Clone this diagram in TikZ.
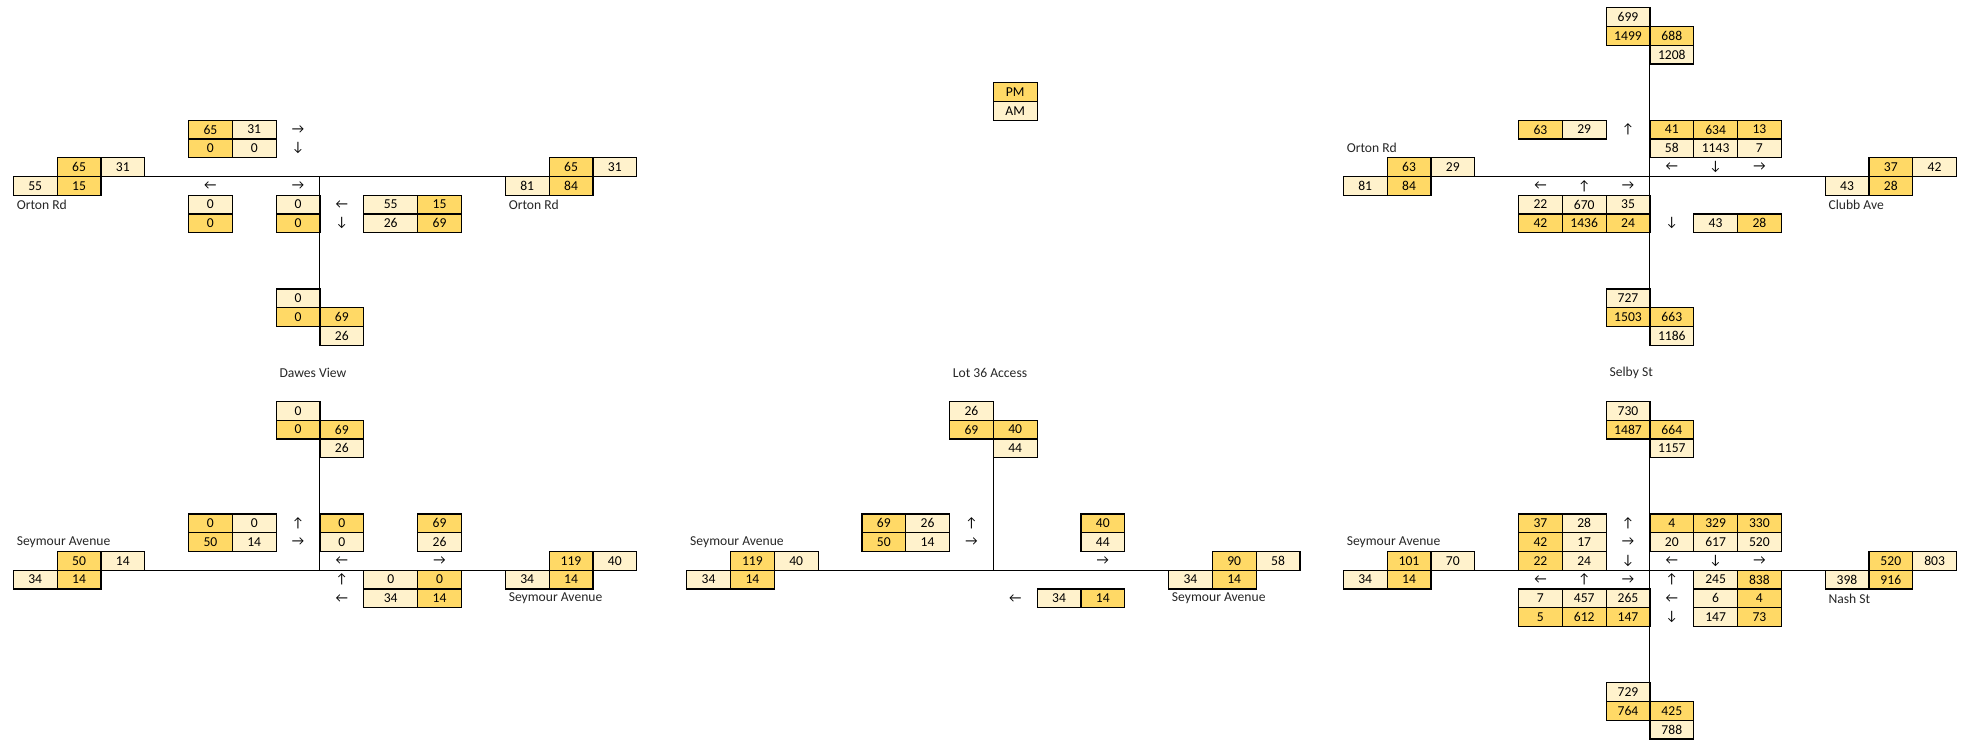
\documentclass[tikz,border=0pt]{standalone}
\usepackage{fontspec}
\setmainfont{Carlito}
\definecolor{pmfill}{HTML}{FFD966}
\definecolor{amfill}{HTML}{FFF2CC}
\begin{document}
\begin{tikzpicture}[x=32.85pt,y=-14.0625pt,
  every node/.style={font=\fontsize{10.2}{12}\selectfont},
  cell/.style={draw=black,line width=0.9pt,anchor=north west,minimum width=32.85pt,minimum height=14.0625pt,inner sep=0pt,outer sep=0pt},
  pmcell/.style={cell,fill=pmfill},
  amcell/.style={cell,fill=amfill},
  widecell/.style={minimum width=40.5pt},
  arr/.style={inner sep=0pt},
  lbl/.style={anchor=west,inner sep=2.4pt,text=black!85},
  road/.style={line width=0.8pt}]
  \path[use as bounding box] (0pt,0pt) rectangle (1476.75pt,-556.5pt);

  \begin{scope}[shift={(9.975pt,-5.775pt)}]
    \coordinate (tlW) at (0,9);
    \coordinate (tlE) at (14.233,9);
    \coordinate (tlC) at (7,9);
    \coordinate (tlS) at (7,15);
    \draw[road] (tlW) -- (tlE);
    \draw[road] (tlC) -- (tlS);
    \foreach \v/\x/\y [count=\i] in {65/4/6,0/4/7,65/1/8,65/12.233/8,15/1/9,84/12.233/9,15/9.233/10,0/4/11,0/6/11,69/9.233/11,0/6/16,69/7/16}
      \node[pmcell] (tlp\i) at (\x,\y) {\v};
    \foreach \v/\x/\y [count=\i] in {31/5/6,0/5/7,31/2/8,31/13.233/8,55/0/9,81/11.233/9,0/4/10,0/6/10,0/6/15,26/7/17}
      \node[amcell] (tla\i) at (\x,\y) {\v};
    \node[amcell,widecell] (tlw1) at (8,10) {55};
    \node[amcell,widecell] (tlw2) at (8,11) {26};
    \foreach \t/\x/\y [count=\i] in {→/6/6,↓/6/7,←/4/9,→/6/9,←/7/10,↓/7/11}
      \node[arr] (tlr\i) at (\x+.5,\y+.5) {\t};
    \node[lbl] (tlOrtonW) at (0,10.5) {Orton Rd};
    \node[lbl] (tlOrtonE) at (11.233,10.5) {Orton Rd};
  \end{scope}

  \begin{scope}[shift={(9.975pt,-5.775pt)}]
    \coordinate (blW) at (0,30);
    \coordinate (blE) at (14.233,30);
    \coordinate (blN) at (7,24);
    \coordinate (blC) at (7,30);
    \draw[road] (blW) -- (blE);
    \draw[road] (blN) -- (blC);
    \foreach \v/\x/\y [count=\i] in {0/6/22,69/7/22,0/4/27,0/7/27,69/9.233/27,50/4/28,50/1/29,119/12.233/29,14/1/30,0/9.233/30,14/12.233/30,14/9.233/31}
      \node[pmcell] (blp\i) at (\x,\y) {\v};
    \foreach \v/\x/\y [count=\i] in {0/6/21,26/7/23,0/5/27,14/5/28,0/7/28,26/9.233/28,14/2/29,40/13.233/29,34/0/30,34/11.233/30}
      \node[amcell] (bla\i) at (\x,\y) {\v};
    \node[amcell,widecell] (blw1) at (8,30) {0};
    \node[amcell,widecell] (blw2) at (8,31) {34};
    \foreach \t/\x/\y [count=\i] in {↑/6/27,→/6/28,←/7/29,→/9.233/29,↑/7/30,←/7/31}
      \node[arr] (blr\i) at (\x+.5,\y+.5) {\t};
    \node[lbl] (blDawes) at (6,19.5) {Dawes View};
    \node[lbl] (blSeymourW) at (0,28.5) {Seymour Avenue};
    \node[lbl] (blSeymourE) at (11.233,31.5) {Seymour Avenue};
  \end{scope}

  \begin{scope}[shift={(515.025pt,-5.775pt)}]
    \node[pmcell] (keyPM) at (7,4) {PM};
    \node[amcell] (keyAM) at (7,5) {AM};
    \coordinate (midW) at (0,30);
    \coordinate (midE) at (14,30);
    \coordinate (midN) at (7,24);
    \coordinate (midC) at (7,30);
    \draw[road] (midW) -- (midE);
    \draw[road] (midN) -- (midC);
    \foreach \v/\x/\y [count=\i] in {69/6/22,40/7/22,69/4/27,40/9/27,50/4/28,119/1/29,90/12/29,14/1/30,14/12/30,14/9/31}
      \node[pmcell] (midp\i) at (\x,\y) {\v};
    \foreach \v/\x/\y [count=\i] in {26/6/21,44/7/23,26/5/27,14/5/28,44/9/28,40/2/29,58/13/29,34/0/30,34/11/30,34/8/31}
      \node[amcell] (mida\i) at (\x,\y) {\v};
    \foreach \t/\x/\y [count=\i] in {↑/6/27,→/6/28,→/9/29,←/7/31}
      \node[arr] (midr\i) at (\x+.5,\y+.5) {\t};
    \node[lbl] (midLot) at (6,19.5) {Lot 36 Access};
    \node[lbl] (midSeymourW) at (0,28.5) {Seymour Avenue};
    \node[lbl] (midSeymourE) at (11,31.5) {Seymour Avenue};
  \end{scope}

  \begin{scope}[shift={(1007.475pt,-5.775pt)}]
    \coordinate (trW) at (0,9);
    \coordinate (trE) at (14,9);
    \coordinate (trN) at (7,3);
    \coordinate (trS) at (7,15);
    \draw[road] (trW) -- (trE);
    \draw[road] (trN) -- (trS);
    \foreach \v/\x/\y [count=\i] in {1499/6/1,688/7/1,63/4/6,41/7/6,634/8/6,13/9/6,63/1/8,37/12/8,84/1/9,28/12/9,42/4/11,1436/5/11,24/6/11,28/9/11,1503/6/16,663/7/16}
      \node[pmcell] (trp\i) at (\x,\y) {\v};
    \foreach \v/\x/\y [count=\i] in {699/6/0,1208/7/2,29/5/6,58/7/7,1143/8/7,7/9/7,29/2/8,42/13/8,81/0/9,43/11/9,22/4/10,670/5/10,35/6/10,43/8/11,727/6/15,1186/7/17}
      \node[amcell] (tra\i) at (\x,\y) {\v};
    \foreach \t/\x/\y [count=\i] in {↑/6/6,←/7/8,↓/8/8,→/9/8,←/4/9,↑/5/9,→/6/9,↓/7/11}
      \node[arr] (trr\i) at (\x+.5,\y+.5) {\t};
    \node[lbl] (trOrton) at (0,7.5) {Orton Rd};
    \node[lbl] (trClubb) at (11,10.5) {Clubb Ave};
  \end{scope}

  \begin{scope}[shift={(1007.475pt,-5.775pt)}]
    \coordinate (brW) at (0,30);
    \coordinate (brE) at (14,30);
    \coordinate (brN) at (7,24);
    \coordinate (brS) at (7,36);
    \draw[road] (brW) -- (brE);
    \draw[road] (brN) -- (brS);
    \foreach \v/\x/\y [count=\i] in {1487/6/22,664/7/22,37/4/27,4/7/27,329/8/27,330/9/27,42/4/28,101/1/29,22/4/29,520/12/29,14/1/30,838/9/30,916/12/30,4/9/31,5/4/32,612/5/32,147/6/32,73/9/32,764/6/37,425/7/37}
      \node[pmcell] (brp\i) at (\x,\y) {\v};
    \foreach \v/\x/\y [count=\i] in {730/6/21,1157/7/23,28/5/27,17/5/28,20/7/28,617/8/28,520/9/28,70/2/29,24/5/29,803/13/29,34/0/30,245/8/30,398/11/30,7/4/31,457/5/31,265/6/31,6/8/31,147/8/32,729/6/36,788/7/38}
      \node[amcell] (bra\i) at (\x,\y) {\v};
    \foreach \t/\x/\y [count=\i] in {↑/6/27,→/6/28,↓/6/29,←/7/29,↓/8/29,→/9/29,←/4/30,↑/5/30,→/6/30,↑/7/30,←/7/31,↓/7/32}
      \node[arr] (brr\i) at (\x+.5,\y+.5) {\t};
    \node[lbl] (brSelby) at (6,19.5) {Selby St};
    \node[lbl] (brSeymour) at (0,28.5) {Seymour Avenue};
    \node[lbl] (brNash) at (11,31.5) {Nash St};
  \end{scope}
\end{tikzpicture}
\end{document}
